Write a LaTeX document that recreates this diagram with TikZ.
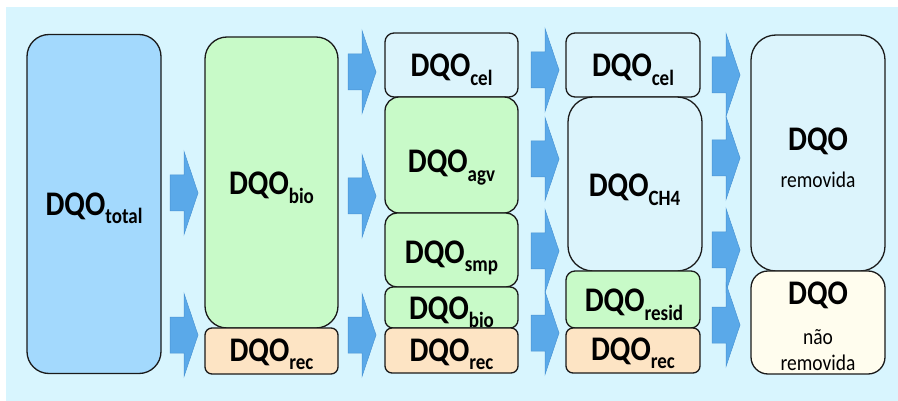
\documentclass[tikz,border=0pt]{standalone}
\usepackage{fontspec}
\setmainfont{Carlito}
\definecolor{bgc}{HTML}{D8F5FE}
\definecolor{totc}{HTML}{A3D9FD}
\definecolor{grc}{HTML}{C8FAC8}
\definecolor{orc}{HTML}{FDE4C4}
\definecolor{lbc}{HTML}{DCF4FC}
\definecolor{crc}{HTML}{FFFDEE}
\definecolor{arc}{HTML}{5AA9E9}
\definecolor{ard}{HTML}{4A95D5}
\definecolor{edc}{HTML}{1A1A1A}
\newcommand\dqosub[1]{\scalebox{1}[1.15]{DQO\raisebox{-7.5pt}{\fontsize{19}{19}\selectfont #1}}}
\newcommand\tallt[1]{\scalebox{1}[1.15]{#1}}
\tikzset{
  box/.style={draw=edc, line width=1.3pt, inner sep=0pt, outer sep=0pt},
  lbl/.style={inner sep=0pt, anchor=base, font=\fontsize{30}{30}\selectfont\bfseries},
  sml/.style={inner sep=0pt, anchor=base, font=\fontsize{19.5}{19.5}\selectfont},
  barrow/.pic={\path[fill=arc, draw=ard, line width=0.5pt] (0,-18) -- (14,-18) -- (14,-41.5) -- (28,0) -- (14,41.5) -- (14,18) -- (0,18) -- cycle;}
}
\begin{document}
\begin{tikzpicture}[x=1pt,y=-1pt]
\useasboundingbox (0,0) rectangle (898,401);
\fill[bgc] (6,7) rectangle (898,401);
% column 1
\node[box, fill=totc, rounded corners=22pt, minimum width=134pt, minimum height=339pt] (tot) at (94,204) {};
\node[lbl] (ttot) at (94,215) {\dqosub{total}};
% column 2
\node[box, fill=grc, rounded corners=22pt, minimum width=133pt, minimum height=291pt] (bio2) at (271.5,182.5) {};
\node[box, fill=orc, rounded corners=7pt, minimum width=133pt, minimum height=46pt] (rec2) at (271.5,351) {};
\node[lbl] (tbio2) at (271.5,195) {\dqosub{bio}};
\node[lbl] (trec2) at (271.5,361) {\dqosub{rec}};
% column 3
\node[box, fill=lbc, rounded corners=9pt, minimum width=133pt, minimum height=64pt] (cel3) at (451.5,65) {};
\node[box, fill=grc, rounded corners=14pt, minimum width=133pt, minimum height=116pt] (agv3) at (451.5,155) {};
\node[box, fill=grc, rounded corners=12pt, minimum width=133pt, minimum height=74pt] (smp3) at (451.5,250) {};
\node[box, fill=grc, rounded corners=8pt, minimum width=133pt, minimum height=41pt] (bio3) at (451.5,307.5) {};
\node[box, fill=orc, rounded corners=7pt, minimum width=133pt, minimum height=45pt] (rec3) at (451.5,350.5) {};
\node[lbl] (tcel3) at (451.5,77) {\dqosub{cel}};
\node[lbl] (tagv3) at (451.5,173) {\dqosub{agv}};
\node[lbl] (tsmp3) at (451.5,263) {\dqosub{smp}};
\node[lbl] (tbio3) at (451.5,319) {\dqosub{bio}};
\node[lbl] (trec3) at (451.5,361) {\dqosub{rec}};
% column 4
\node[box, fill=lbc, rounded corners=9pt, minimum width=134pt, minimum height=64pt] (cel4) at (633,65) {};
\node[box, fill=lbc, rounded corners=25pt, minimum width=134pt, minimum height=174pt] (ch44) at (635,184) {};
\node[box, fill=grc, rounded corners=9pt, minimum width=134pt, minimum height=57pt] (res4) at (633,299.5) {};
\node[box, fill=orc, rounded corners=7pt, minimum width=134pt, minimum height=45pt] (rec4) at (633,350.5) {};
\node[lbl] (tcel4) at (633,77) {\dqosub{cel}};
\node[lbl] (tch44) at (634.5,197) {\dqosub{CH4}};
\node[lbl] (tres4) at (634,312) {\dqosub{resid}};
\node[lbl] (trec4) at (633,360) {\dqosub{rec}};
% column 5
\node[box, fill=lbc, rounded corners=25pt, minimum width=134pt, minimum height=236pt] (rem5) at (818,153) {};
\node[box, fill=crc, rounded corners=17pt, minimum width=134pt, minimum height=103pt] (nrem5) at (818,322.5) {};
\node[lbl] (trem5a) at (818,151) {\tallt{DQO}};
\node[sml] (trem5b) at (818,188) {\tallt{removida}};
\node[lbl] (tnrem5a) at (818,305) {\tallt{DQO}};
\node[sml] (tnrem5b) at (818,344) {\tallt{não}};
\node[sml] (tnrem5c) at (818,370) {\tallt{removida}};
% arrows
\pic at (170,193) {barrow};
\pic at (170,335) {barrow};
\pic at (348,72) {barrow};
\pic at (348,196) {barrow};
\pic at (348,335) {barrow};
\pic at (531,70) {barrow};
\pic at (531,159) {barrow};
\pic at (531,251) {barrow};
\pic at (531,333) {barrow};
\pic at (712,75) {barrow};
\pic at (712,158) {barrow};
\pic at (712,250) {barrow};
\pic at (712,325) {barrow};
\end{tikzpicture}
\end{document}
